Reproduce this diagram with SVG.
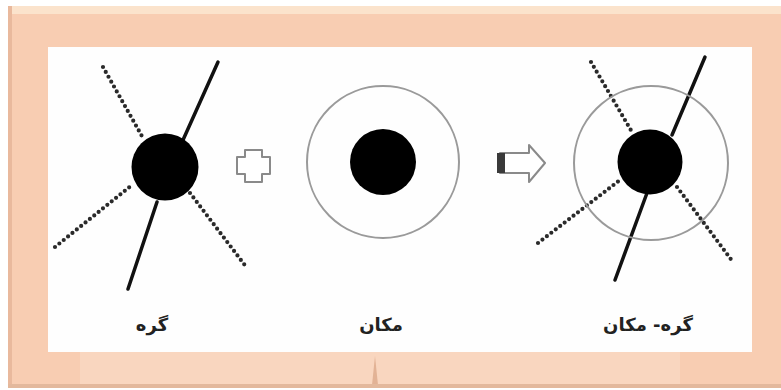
<svg xmlns="http://www.w3.org/2000/svg" width="781" height="390" viewBox="0 0 781 390">
<style>
.solid{stroke:#111;stroke-width:3.5;stroke-linecap:round;fill:none}
.dot{stroke:#2a2a2a;stroke-width:4.2;stroke-linecap:round;stroke-dasharray:0 5.6;fill:none}
.ring{fill:none;stroke:#9a9a9a;stroke-width:2}
.core{fill:#000}
.lbl{font-family:"DejaVu Sans","Noto Sans",sans-serif;font-weight:bold;font-size:18px;fill:#222;text-anchor:middle}
.sym{fill:#fff;stroke:#8a8a8a;stroke-width:2;stroke-linejoin:round}
</style>
<rect width="781" height="390" fill="#ffffff"/>
<g id="frame">
<rect x="8" y="6" width="773" height="382" fill="#f8cdb2"/>
<rect x="8" y="6" width="773" height="8" fill="#fbe3cc"/>
<rect x="8" y="6" width="4" height="382" fill="#e9b99d"/>
<rect x="80" y="352" width="600" height="33" fill="#f9d6bf"/>
<path d="M372 385 L375 356 L378 385 Z" fill="#e2b295"/>
<rect x="8" y="384" width="773" height="4" fill="#e3b89c"/>
<rect x="48" y="47" width="704" height="305" fill="#fefefe"/>
</g>
<g id="connectors">
<line class="dot" x1="103" y1="67" x2="143" y2="138"/>
<line class="dot" x1="55" y1="247" x2="132" y2="185"/>
<line class="dot" x1="190" y1="193" x2="247" y2="268"/>
<line class="solid" x1="218" y1="62" x2="183" y2="140"/>
<line class="solid" x1="157" y1="202" x2="128" y2="289"/>
<line class="dot" x1="591" y1="62" x2="632" y2="132"/>
<line class="dot" x1="538" y1="243" x2="620" y2="180"/>
<line class="dot" x1="677" y1="187" x2="733" y2="262"/>
<line class="solid" x1="705" y1="57" x2="672" y2="135"/>
<line class="solid" x1="647" y1="193" x2="615" y2="280"/>
</g>
<g id="node-gereh">
<circle class="core" cx="165" cy="167" r="33.5"/>
<text class="lbl" x="152" y="331">گره</text>
</g>
<g id="plus">
<path class="sym" d="M245 150 H262 V157 H270 V174 H262 V182 H245 V174 H237 V157 H245 Z"/>
</g>
<g id="node-makan">
<circle class="ring" cx="383" cy="162" r="76"/>
<circle class="core" cx="383" cy="162" r="33"/>
<text class="lbl" x="381" y="331">مکان</text>
</g>
<g id="arrow">
<path class="sym" d="M500 153 H529 V145 L545 163 L529 182 V173 H500 Z"/>
<rect x="497" y="153" width="8" height="20" fill="#3a3a3a"/>
</g>
<g id="node-gereh-makan">
<circle class="ring" cx="651" cy="163" r="77"/>
<circle class="core" cx="650" cy="162" r="32.5"/>
<text class="lbl" x="648" y="331">گره- مکان</text>
</g>
</svg>
